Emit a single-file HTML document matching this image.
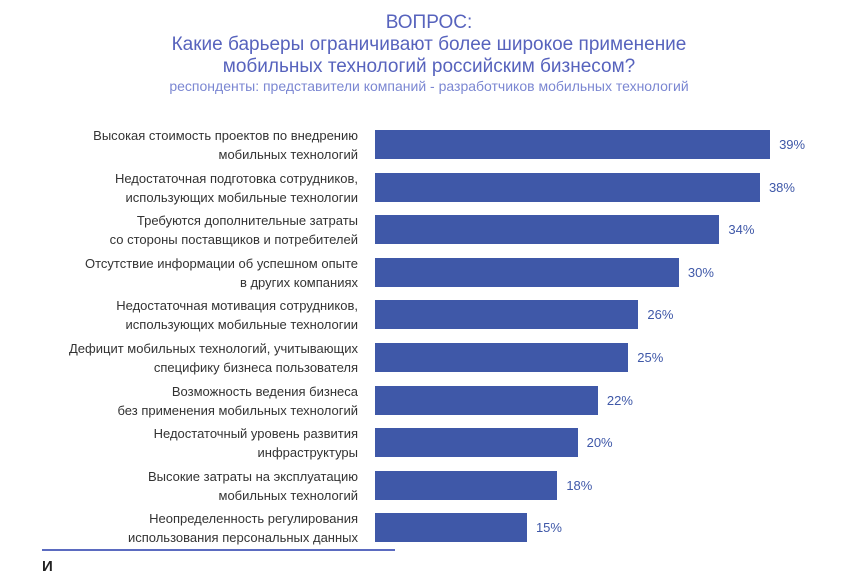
<!DOCTYPE html>
<html><head><meta charset="utf-8"><style>
body{margin:0;width:858px;height:566px;background:#fff;overflow:hidden;font-family:"Liberation Sans",sans-serif;position:relative}
.t{position:absolute;left:0;width:858px;text-align:center;color:#5763bd}
.lab{position:absolute;right:500px;text-align:right;font-size:13px;line-height:19px;color:#333;width:330px}
.bar{position:absolute;height:29px;background:#3f58a8}
.val{position:absolute;font-size:13px;color:#3f58a8}
</style></head><body>
<div class="t" style="top:12px;font-size:19px">ВОПРОС:</div>
<div class="t" style="top:34px;font-size:19px;line-height:22px">Какие барьеры ограничивают более широкое применение<br>мобильных технологий российским бизнесом?</div>
<div class="t" style="top:78px;font-size:14px;color:#7b87d2">респонденты: представители компаний - разработчиков мобильных технологий</div>
<div id="chart"></div>
<div style="position:absolute;left:42px;top:549px;width:353px;height:2px;background:#5b6bc0"></div>
<div style="position:absolute;left:42px;top:558px;font-size:15px;font-weight:bold;color:#222">И</div>
<script>
const categories=["Высокая стоимость проектов по внедрению<br>мобильных технологий","Недостаточная подготовка сотрудников,<br>использующих мобильные технологии","Требуются дополнительные затраты<br>со стороны поставщиков и потребителей","Отсутствие информации об успешном опыте<br>в других компаниях","Недостаточная мотивация сотрудников,<br>использующих мобильные технологии","Дефицит мобильных технологий, учитывающих<br>специфику бизнеса пользователя","Возможность ведения бизнеса<br>без применения мобильных технологий","Недостаточный уровень развития<br>инфраструктуры","Высокие затраты на эксплуатацию<br>мобильных технологий","Неопределенность регулирования<br>использования персональных данных"];
const values=[39,38,34,30,26,25,22,20,18,15];
const x0=375,pxPer=10.13,y0=130,pitch=42.6;
const c=document.getElementById('chart');
values.forEach((v,i)=>{
 const y=y0+i*pitch, w=v*pxPer;
 const l=document.createElement('div');l.className='lab';l.style.top=(y-4)+'px';l.innerHTML=categories[i];
 
 
 c.appendChild(l);
 const b=document.createElement('div');b.className='bar';b.style.left=x0+'px';b.style.top=y+'px';b.style.width=w+'px';
 
 
 c.appendChild(b);
 const t=document.createElement('div');t.className='val';t.style.left=(x0+w+9)+'px';t.style.top=(y+7)+'px';t.textContent=v+'%';
 
 
 c.appendChild(t);
});
</script>
</body></html>
